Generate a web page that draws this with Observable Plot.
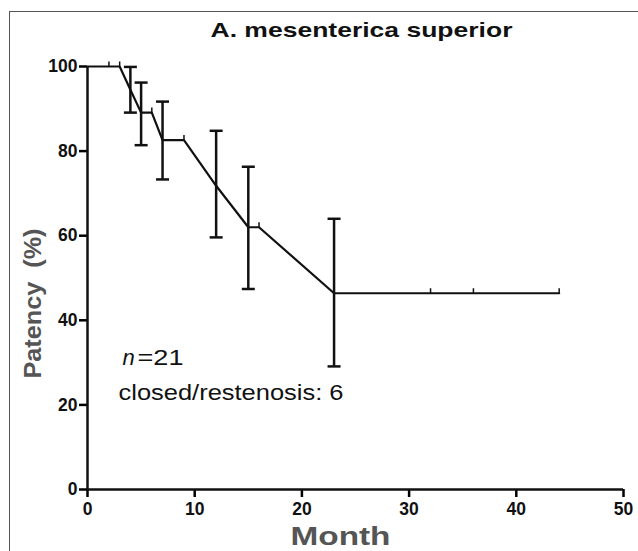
<!DOCTYPE html>
<html>
<head>
<meta charset="utf-8">
<script src="https://cdn.jsdelivr.net/npm/d3@7"></script>
<script src="https://cdn.jsdelivr.net/npm/@observablehq/plot@0.6"></script>
<style>
  html, body { margin: 0; padding: 0; background: #fff; }
  #wrap { position: relative; width: 638px; height: 551px; overflow: hidden; }
  #frame { position: absolute; left: 9px; top: 11px; width: 640px; height: 560px;
           border-left: 1.5px solid #555; border-top: 1.5px solid #555; pointer-events: none; }
</style>
</head>
<body>
<div id="wrap"><div id="frame"></div></div>
<script>
// ---- data ----
const curveMonths = [0, 3, 4, 5, 6, 7, 9, 12, 15, 16, 23, 44];
const curveValues = [100, 100, 94.5, 89.1, 89.1, 82.6, 82.6, 71.8, 62.0, 62.0, 46.4, 46.4];

const barMonths = [4, 5, 7, 12, 15, 23];
const barLow    = [89.1, 81.4, 73.3, 59.6, 47.4, 29.1];
const barHigh   = [99.9, 96.2, 91.7, 84.8, 76.3, 64.0];

const censorMonths = [2, 3, 6, 9, 16, 32, 36, 44];
const censorValues = [100, 100, 89.1, 82.6, 62.0, 46.4, 46.4, 46.4];

const xTicks = [0, 10, 20, 30, 40, 50];
const yTicks = [0, 20, 40, 60, 80, 100];

const titleText = "A. mesenterica superior";
const xLabel = "Month";
const yLabel = "Patency  (%)";
const nLabel = "n";
const nValue = "=21";
const eventsText = "closed/restenosis: 6";

// ---- tables ----
const curve = curveMonths.map((m, i) => ({month: m, value: curveValues[i]}));
const bars = barMonths.map((m, i) => ({month: m, lo: barLow[i], hi: barHigh[i]}));
const censored = censorMonths.map((m, i) => ({month: m, value: censorValues[i]}));

const capSymbol = { draw(ctx) { ctx.moveTo(-6.5, 0); ctx.lineTo(6.5, 0); } };
const censorSymbol = { draw(ctx) { ctx.moveTo(0, 0); ctx.lineTo(0, -5); } };

const font = "Liberation Sans, Arial, Helvetica, sans-serif";

const chart = Plot.plot({
  width: 638,
  height: 551,
  marginLeft: 87,
  marginRight: 15,
  marginTop: 66,
  marginBottom: 62,
  style: { fontFamily: font, background: "transparent", overflow: "visible" },
  x: { domain: [0, 50] },
  y: { domain: [0, 100] },
  marks: [
    Plot.axisX({ ticks: xTicks, tickSize: 8, tickPadding: 5, strokeWidth: 2.5,
                 fontSize: 17.5, fontWeight: "bold", fill: "#111", label: null }),
    Plot.axisY({ ticks: yTicks, tickSize: 8, tickPadding: 2, strokeWidth: 2.5,
                 fontSize: 17.5, fontWeight: "bold", fill: "#111", label: null }),
    Plot.ruleX([0], { y1: 0, y2: 100, strokeWidth: 2.5, stroke: "#111" }),
    Plot.ruleY([0], { x1: 0, x2: 50, strokeWidth: 2.5, stroke: "#111" }),
    Plot.line(curve, { x: "month", y: "value", strokeWidth: 2.2, stroke: "#111" }),
    Plot.ruleX(bars, { x: "month", y1: "lo", y2: "hi", strokeWidth: 2.5, stroke: "#111" }),
    Plot.dot(bars, { x: "month", y: "lo", symbol: capSymbol, r: 1, stroke: "#111", strokeWidth: 2.5, fill: "none" }),
    Plot.dot(bars, { x: "month", y: "hi", symbol: capSymbol, r: 1, stroke: "#111", strokeWidth: 2.5, fill: "none" }),
    Plot.dot(censored, { x: "month", y: "value", symbol: censorSymbol, r: 1, stroke: "#111", strokeWidth: 1.5, fill: "none" }),
    Plot.text([titleText], { frameAnchor: "top-left", dx: 274, dy: -36, text: d => d,
                             fontSize: 20.5, fontWeight: "bold", fill: "#111", textAnchor: "middle", lineAnchor: "middle" }),
    Plot.text([xLabel], { frameAnchor: "bottom-left", dx: 253, dy: 47, text: d => d,
                          fontSize: 25, fontWeight: "bold", fill: "#555", textAnchor: "middle", lineAnchor: "middle" }),
    Plot.text([yLabel], { frameAnchor: "top-left", dx: -54, dy: 237, text: d => d, rotate: -90,
                          fontSize: 23, fontWeight: "bold", fill: "#555", textAnchor: "middle", lineAnchor: "middle" }),
    Plot.text([nLabel], { frameAnchor: "top-left", dx: 35, dy: 298, text: d => d,
                          fontSize: 22, fontStyle: "italic", fill: "#111", textAnchor: "start", lineAnchor: "bottom" }),
    Plot.text([nValue], { frameAnchor: "top-left", dx: 50, dy: 298, text: d => d,
                          fontSize: 22, fill: "#111", textAnchor: "start", lineAnchor: "bottom" }),
    Plot.text([eventsText], { frameAnchor: "top-left", dx: 31, dy: 333, text: d => d,
                              fontSize: 22, fill: "#111", textAnchor: "start", lineAnchor: "bottom" })
  ]
});

document.getElementById("wrap").prepend(chart);

// stretch texts to the widths seen in the reference
const widths = new Map([[titleText, 302], [eventsText, 225], [xLabel, 100], [yLabel, 150], [nValue, 46]]);
chart.querySelectorAll("text").forEach(t => {
  const w = widths.get(t.textContent);
  if (w) { t.setAttribute("textLength", w); t.setAttribute("lengthAdjust", "spacingAndGlyphs"); }
});
</script>
</body>
</html>
